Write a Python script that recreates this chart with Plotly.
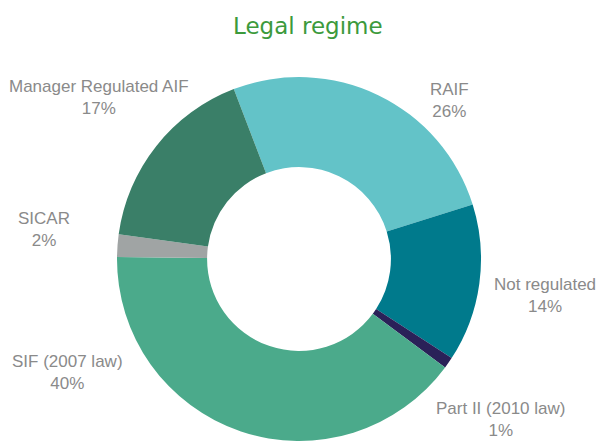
import plotly.graph_objects as go

categories = ["RAIF", "Not regulated", "Part II (2010 law)", "SIF (2007 law)", "SICAR", "Manager Regulated AIF"]
shares = [26, 14, 1, 40, 2, 17]
colors = ["#63C3C8", "#007A8C", "#2A2158", "#4BAA8B", "#A0A4A4", "#3A7F68"]

# label centre positions (page pixels) for each category
label_x = [449, 545, 500, 67, 44, 99]
label_y = [101, 295, 419, 372, 229, 97]

OFF = 8          # default body margin of the html page
W, H = 604 - OFF, 441 - OFF


def px(x):
    return (x - OFF) / W


def py(y):
    return 1 - (y - OFF) / H


cx, cy, r = 299, 259, 182

fig = go.Figure()
fig.add_trace(go.Pie(
    labels=categories,
    values=shares,
    marker=dict(colors=colors, line=dict(width=0)),
    hole=0.505,
    sort=False,
    direction="clockwise",
    rotation=-21,
    textinfo="none",
    hoverinfo="label+percent",
    showlegend=False,
    domain=dict(x=[px(cx - r), px(cx + r)], y=[max(0, py(cy + r)), py(cy - r)]),
))

for cat, v, lx, ly in zip(categories, shares, label_x, label_y):
    fig.add_annotation(
        x=px(lx), y=py(ly), xref="paper", yref="paper",
        text=f"{cat}<br>{v}%", showarrow=False,
        font=dict(family="Liberation Sans, Arial", size=17, color="#8A8A8A"),
        align="center", xanchor="center", yanchor="middle",
    )

fig.add_annotation(
    x=px(308), y=py(26), xref="paper", yref="paper",
    text="Legal regime", showarrow=False,
    font=dict(family="DejaVu Sans", size=23, color="#3C9A3C"),
    xanchor="center", yanchor="middle",
)

fig.update_layout(
    width=W, height=H,
    margin=dict(l=0, r=0, t=0, b=0),
    paper_bgcolor="white",
    plot_bgcolor="white",
)

fig.write_html("out.html")
